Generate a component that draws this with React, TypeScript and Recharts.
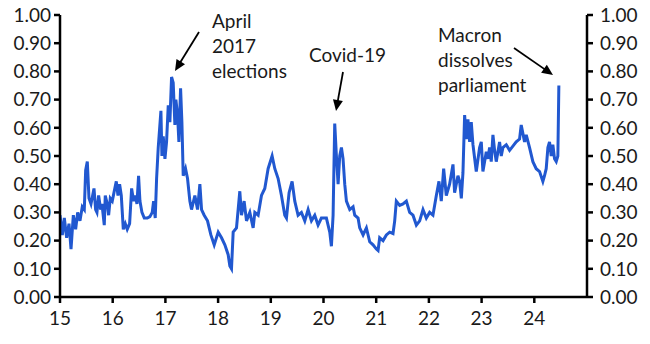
import React from "react";
import { LineChart, Line, XAxis, YAxis } from "recharts";

// Fractional year (15 = 2015) and index value
const years: number[] = [
  15.0, 15.044, 15.082, 15.126, 15.171, 15.209, 15.253, 15.297, 15.335, 15.379,
  15.423, 15.461, 15.487, 15.518, 15.55, 15.588, 15.645, 15.676, 15.701, 15.733,
  15.771, 15.796, 15.84, 15.859, 15.897, 15.923, 15.954, 15.992, 16.024, 16.068,
  16.1, 16.131, 16.163, 16.201, 16.239, 16.276, 16.321, 16.359, 16.397, 16.434,
  16.46, 16.491, 16.517, 16.555, 16.599, 16.656, 16.706, 16.75, 16.776, 16.807,
  16.833, 16.864, 16.915, 16.934, 16.959, 16.991, 17.022, 17.054, 17.085, 17.117,
  17.148, 17.18, 17.199, 17.231, 17.256, 17.288, 17.313, 17.338, 17.382, 17.42,
  17.464, 17.496, 17.559, 17.61, 17.654, 17.686, 17.736, 17.799, 17.863, 17.926,
  18.002, 18.065, 18.128, 18.191, 18.223, 18.254, 18.286, 18.349, 18.412, 18.444,
  18.494, 18.539, 18.602, 18.665, 18.697, 18.76, 18.823, 18.886, 18.949, 19.025,
  19.076, 19.139, 19.202, 19.265, 19.297, 19.347, 19.404, 19.455, 19.518, 19.581,
  19.645, 19.708, 19.771, 19.834, 19.897, 19.96, 20.055, 20.119, 20.15, 20.182,
  20.213, 20.245, 20.277, 20.308, 20.34, 20.371, 20.403, 20.435, 20.498, 20.561,
  20.593, 20.656, 20.687, 20.751, 20.814, 20.877, 20.94, 21.003, 21.035, 21.066,
  21.13, 21.193, 21.256, 21.319, 21.351, 21.382, 21.446, 21.509, 21.572, 21.635,
  21.698, 21.762, 21.825, 21.888, 21.951, 22.014, 22.077, 22.141, 22.191, 22.235,
  22.28, 22.33, 22.393, 22.457, 22.488, 22.551, 22.583, 22.615, 22.646, 22.678,
  22.709, 22.741, 22.773, 22.804, 22.836, 22.899, 22.962, 22.994, 23.025, 23.089,
  23.12, 23.152, 23.183, 23.215, 23.247, 23.278, 23.341, 23.373, 23.405, 23.468,
  23.531, 23.594, 23.657, 23.72, 23.752, 23.815, 23.847, 23.91, 23.973, 24.036,
  24.1, 24.163, 24.194, 24.226, 24.258, 24.289, 24.321, 24.352, 24.384, 24.416,
  24.447, 24.466,
];

const values: number[] = [
  0.29, 0.22, 0.28, 0.21, 0.26, 0.17, 0.29, 0.24, 0.3, 0.27,
  0.32, 0.31, 0.45, 0.48, 0.35, 0.33, 0.385, 0.31, 0.3, 0.36,
  0.31, 0.33, 0.255, 0.36, 0.33, 0.29, 0.35, 0.34, 0.37, 0.41,
  0.36, 0.4, 0.36, 0.24, 0.26, 0.24, 0.26, 0.385, 0.34, 0.36,
  0.33, 0.43, 0.34, 0.3, 0.28, 0.28, 0.285, 0.3, 0.34, 0.28,
  0.42, 0.53, 0.66, 0.5, 0.57, 0.49, 0.55, 0.68, 0.62, 0.78,
  0.76, 0.61, 0.7, 0.645, 0.55, 0.74, 0.62, 0.43, 0.455, 0.42,
  0.34, 0.31, 0.36, 0.31, 0.4, 0.31, 0.29, 0.27, 0.22, 0.185,
  0.23, 0.21, 0.185, 0.15, 0.11, 0.1, 0.23, 0.245, 0.375, 0.29,
  0.34, 0.27, 0.3, 0.245, 0.3, 0.29, 0.36, 0.385, 0.455, 0.5,
  0.455, 0.42, 0.36, 0.29, 0.28, 0.37, 0.41, 0.34, 0.29, 0.3,
  0.27, 0.31, 0.27, 0.29, 0.255, 0.28, 0.28, 0.23, 0.18, 0.29,
  0.615, 0.5, 0.4, 0.5, 0.53, 0.49, 0.4, 0.34, 0.31, 0.32,
  0.29, 0.28, 0.245, 0.22, 0.245, 0.196, 0.185, 0.17, 0.165, 0.21,
  0.2, 0.22, 0.23, 0.225, 0.27, 0.34, 0.325, 0.33, 0.34, 0.3,
  0.29, 0.255, 0.27, 0.31, 0.28, 0.3, 0.29, 0.36, 0.41, 0.34,
  0.455, 0.36, 0.4, 0.47, 0.37, 0.43, 0.41, 0.35, 0.44, 0.645,
  0.56, 0.63, 0.55, 0.62, 0.54, 0.445, 0.53, 0.55, 0.445, 0.515,
  0.49, 0.53, 0.48, 0.575, 0.52, 0.48, 0.55, 0.5, 0.53, 0.54,
  0.52, 0.535, 0.55, 0.56, 0.61, 0.55, 0.575, 0.53, 0.48, 0.455,
  0.445, 0.41, 0.43, 0.455, 0.53, 0.55, 0.5, 0.54, 0.49, 0.48,
  0.5, 0.75,
];

const xTicks: number[] = [15, 16, 17, 18, 19, 20, 21, 22, 23, 24];
const yTicks: number[] = [0, 0.1, 0.2, 0.3, 0.4, 0.5, 0.6, 0.7, 0.8, 0.9, 1.0];

const annotations = [
  { lines: ["April", "2017", "elections"], x: 212, y: 28, from: [199, 32], to: [175, 71] },
  { lines: ["Covid-19"], x: 309, y: 62, from: [343, 72], to: [336, 111] },
  { lines: ["Macron", "dissolves", "parliament"], x: 438, y: 42, from: [514, 48], to: [553, 75] },
];

const data = years.map((t, i) => ({ t, v: values[i] }));

const FONT = "Lato, 'Open Sans', sans-serif";
const tickStyle = { fontFamily: FONT, fontSize: 19, fill: "#1a1a1a" };
const axisStyle = { stroke: "#000", strokeWidth: 2.5 };

function Arrow({ from, to }: { from: number[]; to: number[] }) {
  const dx = to[0] - from[0];
  const dy = to[1] - from[1];
  const len = Math.sqrt(dx * dx + dy * dy);
  const ux = dx / len;
  const uy = dy / len;
  const head = 11;
  const half = 5;
  const bx = to[0] - ux * head;
  const by = to[1] - uy * head;
  const p1 = `${to[0]},${to[1]}`;
  const p2 = `${bx - uy * half},${by + ux * half}`;
  const p3 = `${bx + uy * half},${by - ux * half}`;
  return (
    <g>
      <line x1={from[0]} y1={from[1]} x2={bx + ux * 2} y2={by + uy * 2} stroke="#000" strokeWidth={1.8} />
      <polygon points={`${p1} ${p2} ${p3}`} fill="#000" />
    </g>
  );
}

export default function App() {
  return (
    <div style={{ position: "absolute", left: 0, top: 0, width: 650, height: 344, background: "#fff" }}>
      <LineChart width={650} height={344} data={data} margin={{ top: 15, right: 0, left: 0, bottom: 0 }}>
        <XAxis
          dataKey="t"
          type="number"
          domain={[15, 25]}
          ticks={xTicks}
          allowDataOverflow
          height={47}
          tick={tickStyle}
          tickSize={6}
          tickMargin={9}
          axisLine={axisStyle}
          tickLine={axisStyle}
        />
        <YAxis
          yAxisId="left"
          orientation="left"
          domain={[0, 1]}
          ticks={yTicks}
          width={60}
          tick={tickStyle}
          tickSize={6}
          tickMargin={3}
          tickFormatter={(v: number) => v.toFixed(2)}
          axisLine={axisStyle}
          tickLine={axisStyle}
        />
        <YAxis
          yAxisId="right"
          orientation="right"
          domain={[0, 1]}
          ticks={yTicks}
          width={63}
          includeHidden
          tick={tickStyle}
          tickSize={6}
          tickMargin={7}
          tickFormatter={(v: number) => v.toFixed(2)}
          axisLine={axisStyle}
          tickLine={axisStyle}
        />
        <Line
          yAxisId="left"
          type="linear"
          dataKey="v"
          stroke="#2158d0"
          strokeWidth={3}
          dot={false}
          isAnimationActive={false}
        />
        <Line
          yAxisId="right"
          type="linear"
          dataKey="v"
          hide
          dot={false}
          legendType="none"
          isAnimationActive={false}
        />
      </LineChart>
      <svg width={650} height={344} style={{ position: "absolute", left: 0, top: 0, pointerEvents: "none" }}>
        {annotations.map((a, i) => (
          <g key={i}>
            <text x={a.x} y={a.y} fontFamily={FONT} fontSize={19} fill="#1a1a1a">
              {a.lines.map((l, j) => (
                <tspan key={j} x={a.x} dy={j === 0 ? 0 : 25}>
                  {l}
                </tspan>
              ))}
            </text>
            <Arrow from={a.from} to={a.to} />
          </g>
        ))}
      </svg>
    </div>
  );
}
